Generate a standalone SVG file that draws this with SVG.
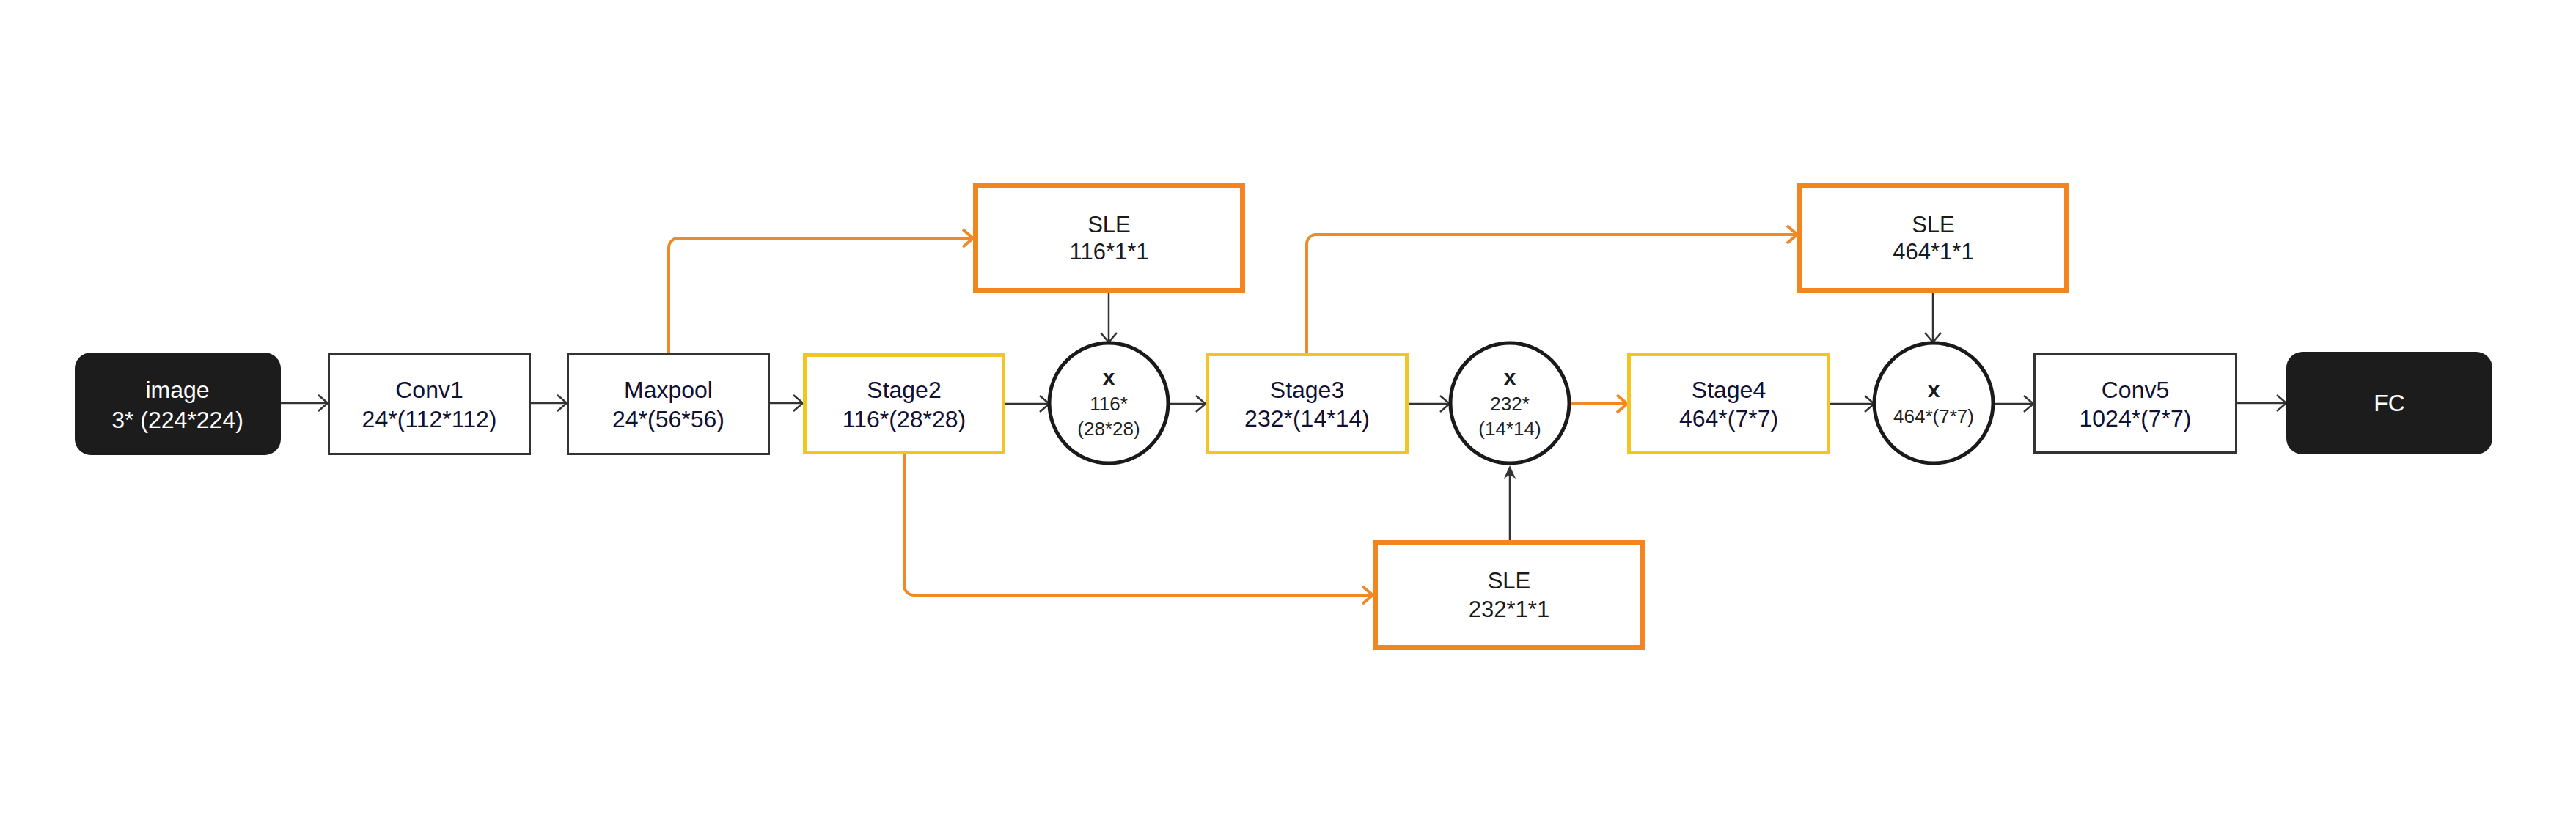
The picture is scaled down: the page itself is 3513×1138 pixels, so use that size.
<svg xmlns="http://www.w3.org/2000/svg" width="3513" height="1138" viewBox="0 0 3513 1138">
<style>
.lbl{font-family:"Liberation Sans",Arial,sans-serif;font-size:32px;text-anchor:middle;fill:#111133}
.wht{fill:#ffffff}
.sle{font-family:"Liberation Sans",Arial,sans-serif;font-size:31px;text-anchor:middle;fill:#1a1a1a}
.cx{font-family:"Liberation Sans",Arial,sans-serif;font-size:30px;font-weight:bold;text-anchor:middle;fill:#1a1a1a}
.cs{font-family:"Liberation Sans",Arial,sans-serif;font-size:26px;text-anchor:middle;fill:#222222}
.box{fill:#ffffff;stroke:#333333;stroke-width:3}
.dark{fill:#1c1c1c}
.stage{fill:#ffffff;stroke:#F4C520;stroke-width:5}
.slebox{fill:#ffffff;stroke:#F2851E;stroke-width:7}
.mul{fill:#ffffff;stroke:#1a1a1a;stroke-width:5}
.cb{fill:none;stroke:#333333;stroke-width:2.5}
.co{fill:none;stroke:#F08A28;stroke-width:4}
</style>
<defs>
<marker id="ab" markerUnits="userSpaceOnUse" viewBox="0 0 16 24" refX="15" refY="12" markerWidth="16" markerHeight="24" orient="auto">
<path d="M2,1 L15,12 L2,23" fill="none" stroke="#333333" stroke-width="2.5"/>
</marker>
<marker id="ao" markerUnits="userSpaceOnUse" viewBox="0 0 18 28" refX="16" refY="14" markerWidth="18" markerHeight="28" orient="auto">
<path d="M2,2 L16,14 L2,26" fill="none" stroke="#F08A28" stroke-width="4"/>
</marker>
</defs>

<g id="connectors">
<path class="cb" d="M383,550 H447" marker-end="url(#ab)"/>
<path class="cb" d="M724,550 H773" marker-end="url(#ab)"/>
<path class="cb" d="M1050,550 H1095" marker-end="url(#ab)"/>
<path class="cb" d="M1371,551 H1431" marker-end="url(#ab)"/>
<path class="cb" d="M1595,551 H1644" marker-end="url(#ab)"/>
<path class="cb" d="M1921,551 H1977" marker-end="url(#ab)"/>
<path class="co" d="M2143,551 H2219" marker-end="url(#ao)"/>
<path class="cb" d="M2496,551 H2556" marker-end="url(#ab)"/>
<path class="cb" d="M2720,551 H2773" marker-end="url(#ab)"/>
<path class="cb" d="M3051,550 H3118" marker-end="url(#ab)"/>
<path class="co" d="M912,482 V338 A13,13 0 0 1 925,325 H1327" marker-end="url(#ao)"/>
<path class="cb" d="M1512,400 V467" marker-end="url(#ab)"/>
<path class="co" d="M1782,481 V333 A13,13 0 0 1 1795,320 H2451" marker-end="url(#ao)"/>
<path class="cb" d="M2636,400 V467" marker-end="url(#ab)"/>
<path class="co" d="M1233,620 V799 A13,13 0 0 0 1246,812 H1872" marker-end="url(#ao)"/>
<path class="cb" d="M2059,737 V648"/>
<path d="M2059,635 L2051,653 L2059,648 L2067,653 Z" fill="#333333"/>
</g>

<g id="image">
<rect class="dark" x="102" y="481" width="281" height="140" rx="22"/>
<text class="lbl wht" x="242" y="543">image</text>
<text class="lbl wht" x="242" y="584">3* (224*224)</text>
</g>
<g id="conv1">
<rect class="box" x="448.5" y="483.5" width="274" height="136"/>
<text class="lbl" x="585.5" y="543">Conv1</text>
<text class="lbl" x="585.5" y="583">24*(112*112)</text>
</g>
<g id="maxpool">
<rect class="box" x="774.5" y="483.5" width="274" height="136"/>
<text class="lbl" x="911.5" y="543">Maxpool</text>
<text class="lbl" x="911.5" y="583">24*(56*56)</text>
</g>
<g id="stage2">
<rect class="stage" x="1097.5" y="484.5" width="271" height="133"/>
<text class="lbl" x="1233" y="543">Stage2</text>
<text class="lbl" x="1233" y="583">116*(28*28)</text>
</g>
<g id="mul1">
<ellipse class="mul" cx="1512" cy="550" rx="81" ry="82"/>
<text class="cx" x="1512" y="525">x</text>
<text class="cs" x="1512" y="560">116*</text>
<text class="cs" x="1512" y="594">(28*28)</text>
</g>
<g id="stage3">
<rect class="stage" x="1646.5" y="483.5" width="272" height="134"/>
<text class="lbl" x="1782.5" y="543">Stage3</text>
<text class="lbl" x="1782.5" y="582">232*(14*14)</text>
</g>
<g id="mul2">
<ellipse class="mul" cx="2059" cy="550" rx="81" ry="82"/>
<text class="cx" x="2059" y="525">x</text>
<text class="cs" x="2059" y="560">232*</text>
<text class="cs" x="2059" y="594">(14*14)</text>
</g>
<g id="stage4">
<rect class="stage" x="2221.5" y="483.5" width="272" height="134"/>
<text class="lbl" x="2357.5" y="543">Stage4</text>
<text class="lbl" x="2357.5" y="582">464*(7*7)</text>
</g>
<g id="mul3">
<ellipse class="mul" cx="2637" cy="550" rx="81" ry="82"/>
<text class="cx" x="2637" y="542">x</text>
<text class="cs" x="2637" y="577">464*(7*7)</text>
</g>
<g id="conv5">
<rect class="box" x="2774.5" y="482.5" width="275" height="135"/>
<text class="lbl" x="2912" y="543">Conv5</text>
<text class="lbl" x="2912" y="582">1024*(7*7)</text>
</g>
<g id="fc">
<rect class="dark" x="3118" y="480" width="281" height="140" rx="22"/>
<text class="lbl wht" x="3258.5" y="561">FC</text>
</g>
<g id="sle1">
<rect class="slebox" x="1330.5" y="253.5" width="364" height="143"/>
<text class="sle" x="1512.5" y="317">SLE</text>
<text class="sle" x="1512.5" y="354">116*1*1</text>
</g>
<g id="sle2">
<rect class="slebox" x="2454.5" y="253.5" width="364" height="143"/>
<text class="sle" x="2636.5" y="317">SLE</text>
<text class="sle" x="2636.5" y="354">464*1*1</text>
</g>
<g id="sle3">
<rect class="slebox" x="1875.5" y="740.5" width="365" height="143"/>
<text class="sle" x="2058" y="803">SLE</text>
<text class="sle" x="2058" y="842">232*1*1</text>
</g>
</svg>
